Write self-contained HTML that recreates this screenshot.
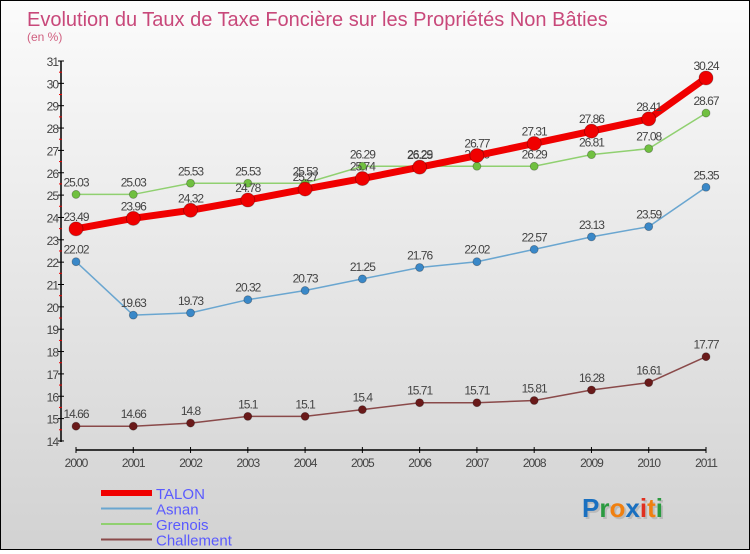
<!DOCTYPE html>
<html><head><meta charset="utf-8"><style>
html,body{margin:0;padding:0}
body{width:750px;height:550px;overflow:hidden;font-family:"Liberation Sans",sans-serif}
#c{position:absolute;left:0;top:0;width:748px;height:548px;border:1px solid #000;background:linear-gradient(#fbfbfb,#d2d2d2)}
</style></head><body>
<div id="c">
<svg id="s" width="748" height="548" xmlns="http://www.w3.org/2000/svg">
<text x="26" y="25" font-size="20" fill="#c8487a">Evolution du Taux de Taxe Foncière sur les Propriétés Non Bâties</text>
<text x="26" y="40" font-size="12" fill="#d06080">(en %)</text>
<g id="axes"></g><g id="series"></g><g id="legend"></g>
<text x="583" y="518" font-size="26" font-weight="bold" fill="#aaa" opacity="0.6">Proxiti</text>
<text x="581" y="516" font-size="26" font-weight="bold"><tspan fill="#1a70c0">P</tspan><tspan fill="#2a9a40">r</tspan><tspan fill="#f08010">o</tspan><tspan fill="#1a70c0">x</tspan><tspan fill="#e03020">i</tspan><tspan fill="#f08010">t</tspan><tspan fill="#2a9a40">i</tspan></text>
</svg></div>
<script>
const years=[2000,2001,2002,2003,2004,2005,2006,2007,2008,2009,2010,2011];
const talon=[23.49,23.96,24.32,24.78,25.27,25.74,26.25,26.77,27.31,27.86,28.41,30.24];
const asnan=[22.02,19.63,19.73,20.32,20.73,21.25,21.76,22.02,22.57,23.13,23.59,25.35];
const grenois=[25.03,25.03,25.53,25.53,25.53,26.29,26.29,26.29,26.29,26.81,27.08,28.67];
const challement=[14.66,14.66,14.8,15.1,15.1,15.4,15.71,15.71,15.81,16.28,16.61,17.77];
const yTicks=[14,15,16,17,18,19,20,21,22,23,24,25,26,27,28,29,30,31];
const NS="http://www.w3.org/2000/svg";
const X=i=>75+i*(630/11);
const Y=v=>60+(31-v)*22.35;
function mk(t,a,p){const e=document.createElementNS(NS,t);for(const k in a)e.setAttribute(k,a[k]);p.appendChild(e);return e;}
const ax=document.getElementById('axes');
let l=mk('line',{x1:60,y1:Y(31),x2:60,y2:Y(14)+1,stroke:'#000','stroke-width':1.5},ax);


yTicks.forEach(v=>{
 let t=mk('line',{x1:57,x2:63,y1:Y(v),y2:Y(v),stroke:'#000'},ax);
 
 
 if(v<31){let m=mk('line',{x1:58,x2:61,y1:Y(v+0.5),y2:Y(v+0.5),stroke:'#e00'},ax);
 
 }
 let tx=mk('text',{x:57,y:Y(v)+5,'font-size':12,fill:'#444','text-anchor':'end','letter-spacing':'-1'},ax);
 tx.textContent=v;
 
 
});
l=mk('line',{x1:X(0),x2:X(11),y1:449,y2:449,stroke:'#000','stroke-width':1.5},ax);


years.forEach((y,i)=>{
 let t=mk('line',{x1:X(i),x2:X(i),y1:446,y2:452,stroke:'#000'},ax);
 
 
 let tx=mk('text',{x:X(i),y:466,'font-size':12,fill:'#444','text-anchor':'middle','letter-spacing':'-1'},ax);
 tx.textContent=y;
 
 
});
const sg=document.getElementById('series');
function series(name,data,color,dot,w,r){
 const g=mk('g',{},sg);
 
 
 let p=mk('polyline',{points:data.map((v,i)=>X(i)+','+Y(v)).join(' '),fill:'none',stroke:color,'stroke-width':w},g);
 
 
 data.forEach((v,i)=>{
  let c=mk('circle',{cx:X(i),cy:Y(v),r:r,fill:dot,stroke:'rgba(0,0,0,0.3)','stroke-width':0.8},g);
  
  
  let t=mk('text',{x:X(i),y:Y(v)-8,'font-size':12,fill:'#444','text-anchor':'middle','letter-spacing':'-1'},g);
  t.textContent=v;
  
  
 });
}
series('challement',challement,'#8a4a4a','#6a1a1a',1.5,4);
series('grenois',grenois,'#90d070','#70c040',1.5,4);
series('asnan',asnan,'#6aa6d0','#3a88c8',1.5,4);
series('talon',talon,'#f00000','#f00000',7,7);
const lg=document.getElementById('legend');
[['TALON','#f00000',6],['Asnan','#6aa6d0',2],['Grenois','#90d070',2],['Challement','#8a4a4a',2]].forEach((d,i)=>{
 const y=493+i*15.5;
 let ln=mk('line',{x1:100,x2:151,y1:y-1,y2:y-1,stroke:d[1],'stroke-width':d[2]},lg);
 
 
 let t=mk('text',{x:155,y:y+5,'font-size':15,fill:'#5a5aff'},lg);
 t.textContent=d[0];
 
 
});
</script>
</body></html>
